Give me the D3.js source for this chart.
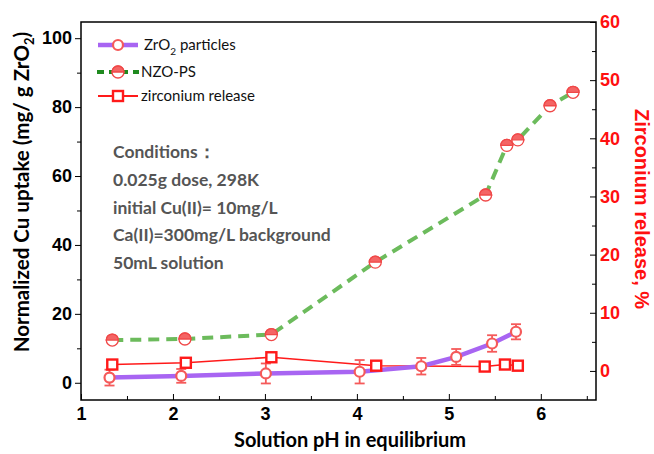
<!DOCTYPE html>
<html>
<head>
<script src="https://cdn.jsdelivr.net/npm/d3@7"></script>
<style>
    body { margin: 0; background: #fff; }
    .tick text { font-family: "Liberation Sans", Arial, sans-serif; font-weight: bold; font-size: 18px; }
    .cal { font-family: Lato, "Open Sans", sans-serif; }
</style>
</head>
<body>
<div id="chart"></div>
<script>
    // ZrO2 particles (left axis)
    var zrPH = [1.31, 2.09, 3.01, 4.03, 4.70, 5.08, 5.47, 5.73];
    var zrUptake = [1.5, 2.0, 2.7, 3.2, 4.8, 7.5, 11.4, 14.8];
    var zrErr = [2.3, 2.0, 2.9, 3.4, 2.4, 2.3, 2.4, 2.2];
    // NZO-PS (left axis)
    var nzoPH = [1.34, 2.13, 3.07, 4.20, 5.40, 5.63, 5.75, 6.10, 6.35];
    var nzoUptake = [12.4, 12.7, 14.0, 35.0, 54.5, 68.9, 70.5, 80.4, 84.3];
    // zirconium release (right axis, %)
    var relPH = [1.34, 2.14, 3.07, 4.21, 5.39, 5.61, 5.75];
    var relPct = [1.1, 1.4, 2.35, 0.9, 0.75, 1.1, 0.9];

    var xTicks = [1, 2, 3, 4, 5, 6];
    var yLeftTicks = [0, 20, 40, 60, 80, 100];
    var yRightTicks = [0, 10, 20, 30, 40, 50, 60];
    var notes = ["Conditions\uff1a", "0.025g dose, 298K", "initial Cu(II)= 10mg/L",
                 "Ca(II)=300mg/L background", "50mL solution"];

    var W = 654, H = 454;
    var mL = 81, mR = 596, mT = 22, mB = 400;

    var x = d3.scaleLinear().domain([1, 6.6]).range([mL, mR]);
    var yL = d3.scaleLinear().domain([-5, 104.7]).range([mB, mT]);
    var yR = d3.scaleLinear().domain([-5, 60]).range([mB, mT]);

    var svg = d3.select("#chart").append("svg")
        .attr("width", W).attr("height", H);
    svg.append("rect").attr("width", W).attr("height", H).attr("fill", "#fff");

    // frame
    svg.append("rect").attr("x", mL).attr("y", mT)
        .attr("width", mR - mL).attr("height", mB - mT)
        .attr("fill", "none").attr("stroke", "#000").attr("stroke-width", 1.5);

    // bottom axis (ticks inside)
    var gx = svg.append("g").attr("transform", "translate(0," + mB + ")")
        .call(d3.axisTop(x).tickValues(d3.range(1.5, 6.6, 1)).tickSize(4).tickFormat(""));
    gx.select(".domain").remove();
    var gxMaj = svg.append("g").attr("transform", "translate(0," + mB + ")")
        .call(d3.axisTop(x).tickValues(xTicks).tickSize(6).tickFormat(d3.format("d")));
    gxMaj.select(".domain").remove();
    gxMaj.selectAll("text").attr("y", 20).attr("fill", "#000");

    // left axis (ticks outside)
    var gyMin = svg.append("g").attr("transform", "translate(" + mL + ",0)")
        .call(d3.axisLeft(yL).tickValues(d3.range(10, 101, 20)).tickSize(4).tickFormat(""));
    gyMin.select(".domain").remove();
    var gyL = svg.append("g").attr("transform", "translate(" + mL + ",0)")
        .call(d3.axisLeft(yL).tickValues(yLeftTicks).tickSize(6).tickPadding(3));
    gyL.select(".domain").remove();
    gyL.selectAll("text").attr("fill", "#000");

    // right axis (ticks inside, red labels)
    var gyRMin = svg.append("g").attr("transform", "translate(" + mR + ",0)")
        .call(d3.axisLeft(yR).tickValues(d3.range(5, 56, 10)).tickSize(4).tickFormat(""));
    gyRMin.select(".domain").remove();
    var gyRTk = svg.append("g").attr("transform", "translate(" + mR + ",0)")
        .call(d3.axisLeft(yR).tickValues(yRightTicks).tickSize(6).tickFormat(""));
    gyRTk.select(".domain").remove();
    var gyR = svg.append("g").attr("transform", "translate(" + mR + ",0)")
        .call(d3.axisRight(yR).tickValues(yRightTicks).tickSize(0).tickPadding(4));
    gyR.select(".domain").remove();
    gyR.selectAll("line").remove();
    gyR.selectAll("text").attr("fill", "#ff1010");

    var red = "#ff1a1a", pink = "#f55a5a", purple = "#a865f2", green = "#6cbb5c";

    var relData = relPH.map((p, i) => ({x: p, y: relPct[i]}));
    var zrData = zrPH.map((p, i) => ({x: p, y: zrUptake[i], e: zrErr[i]}));
    var nzoData = nzoPH.map((p, i) => ({x: p, y: nzoUptake[i]}));

    // lines
    svg.append("path").datum(relData)
        .attr("d", d3.line().x(d => x(d.x)).y(d => yR(d.y)))
        .attr("fill", "none").attr("stroke", red).attr("stroke-width", 1.6);
    svg.append("path").datum(zrData)
        .attr("d", d3.line().x(d => x(d.x)).y(d => yL(d.y)))
        .attr("fill", "none").attr("stroke", purple).attr("stroke-width", 4.5);
    svg.append("path").datum(nzoData)
        .attr("d", d3.line().x(d => x(d.x)).y(d => yL(d.y)))
        .attr("fill", "none").attr("stroke", green).attr("stroke-width", 4)
        .attr("stroke-dasharray", "11,7");

    // error bars
    var eb = svg.append("g").attr("stroke", pink).attr("stroke-width", 1.8);
    zrData.forEach(function (d) {
        var cx = x(d.x);
        eb.append("line").attr("x1", cx).attr("x2", cx).attr("y1", yL(d.y + d.e)).attr("y2", yL(d.y - d.e));
        eb.append("line").attr("x1", cx - 5).attr("x2", cx + 5).attr("y1", yL(d.y + d.e)).attr("y2", yL(d.y + d.e));
        eb.append("line").attr("x1", cx - 5).attr("x2", cx + 5).attr("y1", yL(d.y - d.e)).attr("y2", yL(d.y - d.e));
    });

    function circleMarker(g, cx, cy) {
        g.append("circle").attr("cx", cx).attr("cy", cy).attr("r", 5)
            .attr("fill", "#fff").attr("stroke", pink).attr("stroke-width", 2.2);
    }
    function halfMarker(g, cx, cy) {
        var r = 6;
        g.append("circle").attr("cx", cx).attr("cy", cy).attr("r", r)
            .attr("fill", "#fff").attr("stroke", "#f04848").attr("stroke-width", 1.3);
        g.append("path")
            .attr("d", "M" + (cx - r) + "," + cy + " A" + r + "," + r + " 0 0 1 " + (cx + r) + "," + cy + " Z")
            .attr("fill", "#f46464").attr("stroke", "#f04848").attr("stroke-width", 1.3);
    }
    function squareMarker(g, cx, cy) {
        g.append("rect").attr("x", cx - 5).attr("y", cy - 5).attr("width", 10).attr("height", 10)
            .attr("fill", "#fff").attr("stroke", red).attr("stroke-width", 2.4);
    }

    var mk = svg.append("g");
    relData.forEach(d => squareMarker(mk, x(d.x), yR(d.y)));
    zrData.forEach(d => circleMarker(mk, x(d.x), yL(d.y)));
    nzoData.forEach(d => halfMarker(mk, x(d.x), yL(d.y)));

    // legend
    var lg = svg.append("g");
    var ly = [45, 72, 96];
    lg.append("line").attr("x1", 98).attr("x2", 138).attr("y1", ly[0]).attr("y2", ly[0])
        .attr("stroke", purple).attr("stroke-width", 4.5);
    circleMarker(lg, 118, ly[0]);
    lg.append("line").attr("x1", 97).attr("x2", 139).attr("y1", ly[1]).attr("y2", ly[1])
        .attr("stroke", "#1f8a1f").attr("stroke-width", 4).attr("stroke-dasharray", "7,5");
    halfMarker(lg, 118, ly[1]);
    lg.append("line").attr("x1", 98).attr("x2", 138).attr("y1", ly[2]).attr("y2", ly[2])
        .attr("stroke", red).attr("stroke-width", 1.8);
    squareMarker(lg, 118, ly[2]);

    var lt = lg.append("text").attr("class", "cal").attr("x", 144).attr("y", ly[0] + 5)
        .attr("font-size", 15).attr("fill", "#111");
    lt.append("tspan").text("ZrO");
    lt.append("tspan").text("2").attr("font-size", 10).attr("dy", 5);
    lt.append("tspan").text(" particles").attr("dy", -5);
    lg.append("text").attr("class", "cal").attr("x", 141).attr("y", ly[1] + 5)
        .attr("font-size", 15).attr("fill", "#111").text("NZO-PS");
    lg.append("text").attr("class", "cal").attr("x", 141).attr("y", ly[2] + 5)
        .attr("font-size", 15).attr("fill", "#111").text("zirconium release");

    // conditions note
    svg.append("g").selectAll("text").data(notes).enter().append("text")
        .attr("class", "cal").attr("x", 113).attr("y", (d, i) => 158 + i * 27.8)
        .attr("font-size", 17.5).attr("font-weight", "bold").attr("fill", "#555")
        .text(d => d);

    // axis titles
    svg.append("text").attr("class", "cal").attr("x", 350).attr("y", 447)
        .attr("text-anchor", "middle").attr("font-size", 20).attr("font-weight", "bold")
        .attr("fill", "#000").text("Solution pH in equilibrium");

    var yt = svg.append("text").attr("class", "cal")
        .attr("transform", "translate(29,192) rotate(-90)")
        .attr("text-anchor", "middle").attr("font-size", 20.5).attr("font-weight", "bold").attr("fill", "#000");
    yt.append("tspan").text("Normalized Cu uptake (mg/ g ZrO");
    yt.append("tspan").text("2").attr("font-size", 13).attr("dy", 5);
    yt.append("tspan").text(")").attr("dy", -5);

    svg.append("text").attr("transform", "translate(635,209) rotate(90)")
        .attr("text-anchor", "middle").attr("font-family", "'Liberation Sans', Arial, sans-serif")
        .attr("font-size", 20).attr("font-weight", "bold").attr("fill", "#ff1010")
        .text("Zirconium release, %");
</script>
</body>
</html>
